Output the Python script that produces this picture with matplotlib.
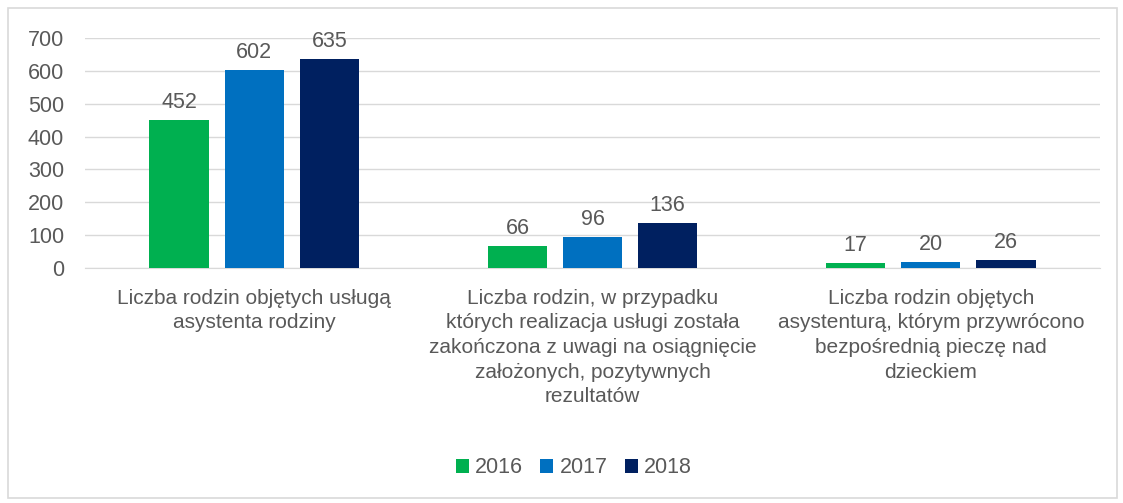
import matplotlib.pyplot as plt
from matplotlib.patches import Rectangle
import numpy as np

# data
categories = [
    "Liczba rodzin objętych usługą\nasystenta rodziny",
    "Liczba rodzin, w przypadku\nktórych realizacja usługi została\nzakończona z uwagi na osiągnięcie\nzałożonych, pozytywnych\nrezultatów",
    "Liczba rodzin objętych\nasystenturą, którym przywrócono\nbezpośrednią pieczę nad\ndzieckiem",
]
years = ["2016", "2017", "2018"]
v2016 = [452, 66, 17]
v2017 = [602, 96, 20]
v2018 = [635, 136, 26]
colors = ["#00B050", "#0070C0", "#002060"]

plt.rcParams['font.family'] = ['Liberation Sans', 'DejaVu Sans']
text_color = "#595959"

fig = plt.figure(figsize=(11.23, 5.03), dpi=100)
ax = fig.add_axes([0.0757, 0.467, 0.9038, 0.4575])

# outer chart border
fig.patches.append(Rectangle((0.007, 0.01), 0.988, 0.975, transform=fig.transFigure,
                             fill=False, edgecolor="#D9D9D9", linewidth=1.2))

x = np.arange(len(categories))
width = 0.175
step = 0.222
for i, (vals, year) in enumerate(zip([v2016, v2017, v2018], years)):
    bars = ax.bar(x + (i - 1) * step, vals, width, color=colors[i], label=year, zorder=3)
    for b, v in zip(bars, vals):
        ax.annotate(str(v), (b.get_x() + b.get_width() / 2, v), xytext=(0, 5),
                    textcoords="offset points", ha="center", va="bottom",
                    fontsize=15.5, color=text_color)

ax.set_xlim(-0.5, 2.5)
ax.set_ylim(0, 700)
ax.set_yticks(range(0, 701, 100))
ax.yaxis.grid(True, color="#D9D9D9", linewidth=1, zorder=0)
ax.set_axisbelow(True)
for s in ["top", "right", "left"]:
    ax.spines[s].set_visible(False)
ax.spines["bottom"].set_color("#D9D9D9")
ax.tick_params(axis="y", length=0, labelsize=15.5, labelcolor=text_color, pad=15)
ax.set_xticks(x)
ax.set_xticklabels(categories, fontsize=15, color=text_color, linespacing=1.37)
ax.tick_params(axis="x", length=0, pad=15)

fig.legend(loc="center", bbox_to_anchor=(0.511, 0.07), ncol=3, frameon=False,
           fontsize=15.5, labelcolor=text_color, handlelength=0.6, handleheight=0.6,
           handletextpad=0.3, columnspacing=0.8)

plt.savefig("out.png", dpi=100)
plt.close(fig)
